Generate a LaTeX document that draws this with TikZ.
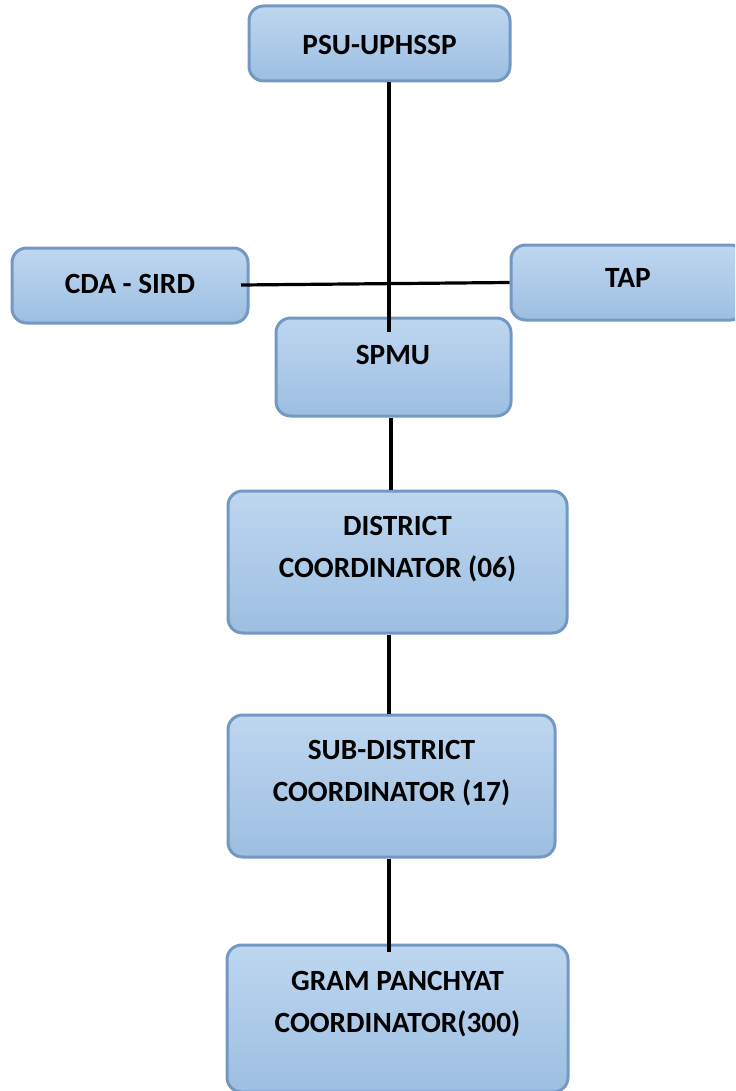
\documentclass[tikz,border=0pt]{standalone}
\usepackage{fontspec}
\setmainfont{Carlito}
\usepackage{xcolor}
\usepackage{tikz}
\definecolor{boxTop}{RGB}{190,215,240}
\definecolor{boxBottom}{RGB}{157,190,225}
\definecolor{boxBorder}{RGB}{115,152,196}
\tikzset{boxsize/.style n args={2}{minimum width=#1*0.75pt,minimum height=#2*0.75pt}}

\begin{document}
\begin{tikzpicture}[x=0.75pt,y=-0.75pt,
box/.style={shape=rectangle,draw=boxBorder,line width=2.25pt,rounded corners=11pt,
    top color=boxTop,bottom color=boxBottom,inner sep=0},
boxtext/.style={font=\fontsize{22}{31.5}\selectfont\bfseries,align=center,inner sep=0},
link/.style={line width=2.4pt,draw=black}
]
\useasboundingbox (0,0) rectangle (735,1091);
\clip (0,0) rectangle (735,1091);
% boxes
\node[box,boxsize={261}{75}] (psu) at (379.5,43.5) {};
\node[box,boxsize={236}{75}] (cda) at (130,285.5) {};
\node[box,boxsize={234}{75}] (tap) at (628,282.5) {};
\node[box,boxsize={235}{98}] (spmu) at (393.5,367) {};
\node[box,boxsize={339}{142}] (dist) at (397.5,562) {};
\node[box,boxsize={327}{142}] (sub) at (391.5,786) {};
\node[box,boxsize={341}{147}] (gram) at (397.5,1018.5) {};
% connectors
\coordinate (spmuIn) at (389,332);
\coordinate (cdaOut) at (241,285);
\coordinate (gramIn) at (389,952);
\draw[link] (psu.south -| spmuIn) -- (spmuIn);
\draw[link] (cdaOut) -- (tap.west);
\draw[link] (spmu.south -| 391,0) -- (dist.north -| 391,0);
\draw[link] (dist.south -| gramIn) -- (sub.north -| gramIn);
\draw[link] (sub.south -| gramIn) -- (gramIn);
% texts
\node[boxtext] (psuText) at (379.5,45) {PSU-UPHSSP};
\node[boxtext] (cdaText) at (130,284) {CDA - SIRD};
\node[boxtext] (tapText) at (628,278) {TAP};
\node[boxtext] (spmuText) at (393,355) {SPMU};
\node[boxtext] (distText) at (397.5,549) {DISTRICT\\COORDINATOR (06)};
\node[boxtext] (subText) at (391.5,773) {SUB-DISTRICT\\COORDINATOR (17)};
\node[boxtext] (gramText) at (397.5,1004) {GRAM PANCHYAT\\COORDINATOR(300)};
\end{tikzpicture}
\end{document}
